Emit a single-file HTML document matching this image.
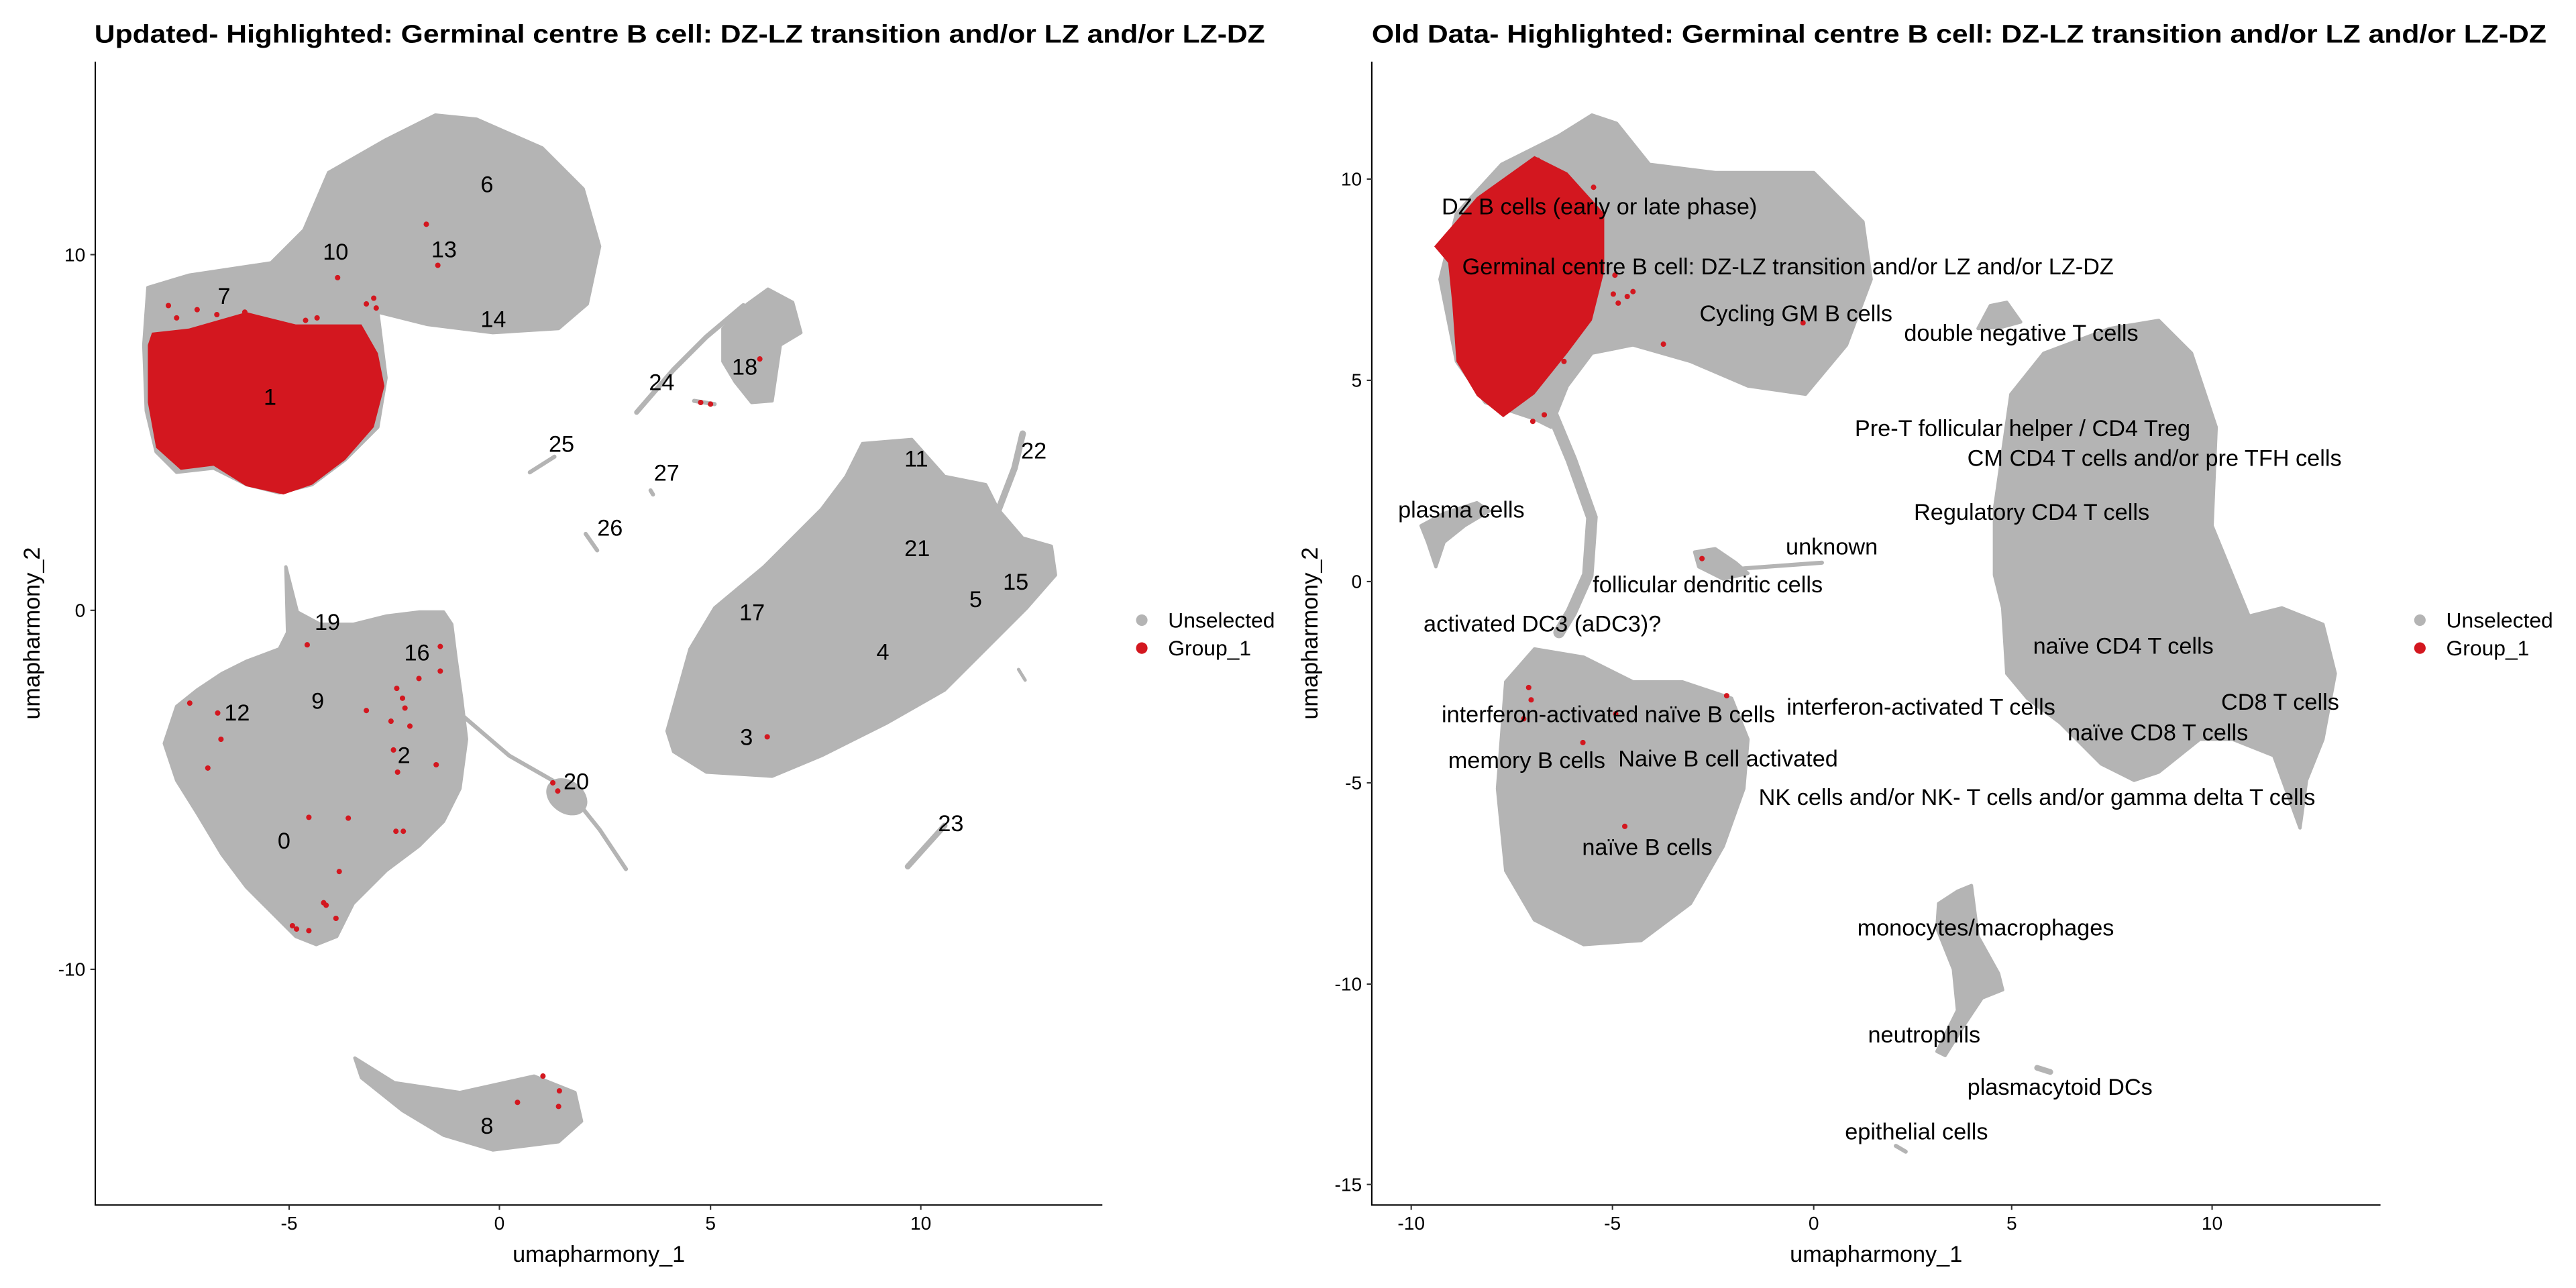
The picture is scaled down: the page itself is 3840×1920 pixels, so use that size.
<!DOCTYPE html>
<html><head><meta charset="utf-8"><style>
html,body{margin:0;padding:0;background:#fff;width:3840px;height:1920px;overflow:hidden}
svg{position:absolute;top:0}
text{font-family:"Liberation Sans",Arial,sans-serif;fill:#000}
.t{font-weight:bold;font-size:31px}
.tk{font-size:23px;fill:#333}
.ax{font-size:28px}
.lb{font-size:28px}
.lg{font-size:26px}
.g{fill:#B4B4B4;stroke:#B4B4B4;stroke-width:4;stroke-linejoin:round}
.r{fill:#D3171F}
.ln{stroke:#B4B4B4;fill:none;stroke-linecap:round}
</style></head><body>
<svg width="1920" height="1920" viewBox="0 0 1568 1568" style="left:0">
<text class="t" x="115" y="52" textLength="1425" lengthAdjust="spacingAndGlyphs">Updated- Highlighted: Germinal centre B cell: DZ-LZ transition and/or LZ and/or LZ-DZ</text>
<path class="g" d="M180,350 L230,335 L330,320 L370,280 L400,210 L470,170 L530,140 L580,145 L660,180 L710,230 L730,300 L715,370 L680,400 L600,405 L520,395 L460,380 L470,460 L460,520 L420,560 L380,590 L340,600 L300,590 L260,570 L215,575 L190,550 L178,500 L175,420 Z"/>
<path class="r" d="M180,420 L185,405 L230,400 L300,380 L360,395 L440,395 L460,430 L468,470 L455,520 L420,560 L380,590 L345,602 L300,592 L260,567 L220,572 L190,545 L180,490 Z"/>
<path class="g" d="M200,905 L215,860 L240,840 L270,820 L300,805 L340,790 L350,770 L348,690 L362,745 L390,760 L430,760 L470,750 L510,745 L540,745 L550,760 L555,800 L562,850 L568,900 L560,960 L540,1000 L510,1030 L470,1060 L430,1100 L410,1140 L385,1150 L360,1140 L330,1110 L300,1080 L270,1040 L240,990 L215,950 Z"/>
<path class="ln" d="M550,860 L620,920 L690,960 L730,1010 L762,1058" stroke-width="5"/>
<ellipse class="g" cx="690" cy="970" rx="25" ry="18" transform="rotate(35 690 970)"/>
<path class="g" d="M432,1288 L480,1318 L560,1330 L650,1310 L700,1330 L708,1365 L680,1390 L600,1400 L540,1382 L490,1352 L440,1312 Z"/>
<path class="g" d="M812,890 L840,790 L870,740 L930,690 L1000,620 L1030,580 L1050,540 L1110,535 L1150,580 L1200,590 L1215,620 L1245,655 L1280,665 L1285,700 L1250,740 L1200,790 L1150,840 L1080,880 L1000,920 L940,945 L860,940 L820,915 Z"/>
<path class="ln" d="M1212,630 L1235,570 L1245,528" stroke-width="8"/>
<path class="ln" d="M1240,815 L1248,828" stroke-width="4"/>
<path class="ln" d="M775,502 L820,450 L860,410 L905,372" stroke-width="6"/>
<path class="g" d="M880,400 L910,370 L935,352 L965,368 L975,405 L950,420 L940,488 L915,490 L895,465 L880,440 Z"/>
<path class="ln" d="M845,488 L870,492" stroke-width="5"/>
<path class="ln" d="M645,575 L675,556" stroke-width="5"/>
<path class="ln" d="M713,650 L727,670" stroke-width="5"/>
<path class="ln" d="M792,597 L795,602" stroke-width="5"/>
<path class="ln" d="M1105,1055 L1150,1005" stroke-width="7"/>
<g class="r">
<circle cx="205" cy="372" r="3.3"/><circle cx="240" cy="377" r="3.3"/><circle cx="264" cy="383" r="3.3"/><circle cx="298" cy="380" r="3.3"/><circle cx="215" cy="387" r="3.3"/><circle cx="372" cy="390" r="3.3"/><circle cx="386" cy="387" r="3.3"/><circle cx="446" cy="370" r="3.3"/><circle cx="455" cy="363" r="3.3"/><circle cx="458" cy="375" r="3.3"/><circle cx="411" cy="338" r="3.3"/><circle cx="519" cy="273" r="3.3"/><circle cx="533" cy="323" r="3.3"/><circle cx="853" cy="490" r="3.3"/><circle cx="865" cy="492" r="3.3"/><circle cx="925" cy="437" r="3.3"/><circle cx="374" cy="785" r="3.3"/><circle cx="536" cy="787" r="3.3"/><circle cx="536" cy="817" r="3.3"/><circle cx="510" cy="826" r="3.3"/><circle cx="483" cy="838" r="3.3"/><circle cx="490" cy="850" r="3.3"/><circle cx="493" cy="862" r="3.3"/><circle cx="499" cy="884" r="3.3"/><circle cx="476" cy="878" r="3.3"/><circle cx="446" cy="865" r="3.3"/><circle cx="479" cy="913" r="3.3"/><circle cx="484" cy="940" r="3.3"/><circle cx="531" cy="931" r="3.3"/><circle cx="231" cy="856" r="3.3"/><circle cx="265" cy="868" r="3.3"/><circle cx="269" cy="900" r="3.3"/><circle cx="253" cy="935" r="3.3"/><circle cx="376" cy="995" r="3.3"/><circle cx="424" cy="996" r="3.3"/><circle cx="482" cy="1012" r="3.3"/><circle cx="491" cy="1012" r="3.3"/><circle cx="413" cy="1061" r="3.3"/><circle cx="394" cy="1099" r="3.3"/><circle cx="397" cy="1102" r="3.3"/><circle cx="409" cy="1118" r="3.3"/><circle cx="356" cy="1127" r="3.3"/><circle cx="361" cy="1131" r="3.3"/><circle cx="376" cy="1133" r="3.3"/><circle cx="673" cy="953" r="3.3"/><circle cx="679" cy="963" r="3.3"/><circle cx="934" cy="897" r="3.3"/><circle cx="661" cy="1310" r="3.3"/><circle cx="681" cy="1328" r="3.3"/><circle cx="680" cy="1347" r="3.3"/><circle cx="630" cy="1342" r="3.3"/>
</g>
<g class="lb">
<text x="585" y="234">6</text><text x="393" y="316">10</text><text x="525" y="313">13</text><text x="585" y="398">14</text><text x="265" y="370">7</text><text x="321" y="493">1</text>
<text x="891" y="456">18</text><text x="790" y="475">24</text><text x="668" y="550">25</text><text x="796" y="585">27</text><text x="727" y="652">26</text>
<text x="1101" y="568">11</text><text x="1243" y="558">22</text><text x="1101" y="677">21</text><text x="1221" y="718">15</text><text x="1180" y="739">5</text><text x="900" y="755">17</text><text x="1067" y="803">4</text><text x="901" y="907">3</text>
<text x="383" y="767">19</text><text x="492" y="804">16</text><text x="379" y="863">9</text><text x="273" y="877">12</text><text x="484" y="929">2</text><text x="686" y="961">20</text><text x="338" y="1033">0</text><text x="1142" y="1012">23</text><text x="585" y="1380">8</text>
</g>
<path d="M116,75 L116,1467 L1342,1467" stroke="#000" stroke-width="1.7" fill="none"/>
<g stroke="#333" stroke-width="1.7"><path d="M110,310H116M110,743H116M110,1180H116M352,1467V1473M608,1467V1473M865,1467V1473M1121,1467V1473"/></g>
<g class="tk" text-anchor="end"><text x="104" y="318">10</text><text x="104" y="751">0</text><text x="104" y="1188">-10</text></g>
<g class="tk" text-anchor="middle"><text x="352" y="1497">-5</text><text x="608" y="1497">0</text><text x="865" y="1497">5</text><text x="1121" y="1497">10</text></g>
<text class="ax" x="729" y="1536" text-anchor="middle">umapharmony_1</text>
<text class="ax" transform="translate(48,771) rotate(-90)" text-anchor="middle">umapharmony_2</text>
<circle cx="1390" cy="755" r="7" fill="#B4B4B4"/><circle cx="1390" cy="789" r="7" fill="#D3171F"/>
<text class="lg" x="1422" y="764">Unselected</text><text class="lg" x="1422" y="798">Group_1</text>
</svg>

<svg width="1920" height="1920" viewBox="0 0 1568 1568" style="left:1920px">
<text class="t" x="102" y="52" textLength="1430" lengthAdjust="spacingAndGlyphs">Old Data- Highlighted: Germinal centre B cell: DZ-LZ transition and/or LZ and/or LZ-DZ</text>
<path class="g" d="M205,260 L260,200 L330,165 L370,140 L400,150 L440,200 L520,210 L640,210 L700,270 L710,340 L680,420 L630,480 L560,470 L490,440 L420,420 L370,430 L340,470 L320,520 L300,510 L240,490 L205,440 L185,340 Z"/>
<path class="r" d="M178,300 L230,240 L300,190 L340,210 L385,260 L385,330 L370,390 L340,430 L300,480 L262,508 L230,482 L205,440 L200,370 L195,320 Z"/>
<path class="g" d="M162,640 L190,625 L230,612 L245,622 L215,640 L190,660 L180,690 L170,660 Z"/>
<path class="ln" d="M320,500 L345,560 L370,630 L365,700 L345,745 L330,770" stroke-width="14"/>
<path class="g" d="M265,830 L300,790 L360,800 L420,830 L480,830 L540,850 L560,900 L555,960 L530,1030 L490,1100 L430,1145 L360,1150 L300,1120 L265,1060 L255,960 Z"/>
<path class="g" d="M495,672 L520,668 L545,685 L560,698 L530,705 L500,690 Z"/>
<path class="ln" d="M555,692 L650,685" stroke-width="5"/>
<path class="g" d="M860,620 L880,480 L920,430 L1000,400 L1060,390 L1100,430 L1130,520 L1125,640 L1170,750 L1210,740 L1260,760 L1275,820 L1260,900 L1240,950 L1232,1008 L1200,920 L1150,900 L1110,900 L1060,940 L1030,950 L990,930 L940,880 L900,850 L875,820 L870,740 L860,700 Z"/>
<path class="g" d="M840,400 L855,372 L875,368 L892,392 L870,398 Z"/>
<path class="g" d="M792,1100 L815,1085 L832,1078 L840,1140 L865,1185 L870,1205 L845,1215 L825,1245 L800,1285 L790,1280 L815,1230 L810,1180 L790,1130 Z"/>
<path class="ln" d="M912,1300 L928,1305" stroke-width="7"/>
<path class="ln" d="M740,1395 L752,1402" stroke-width="5"/>
<g class="r">
<circle cx="304" cy="195" r="3.3"/><circle cx="372" cy="228" r="3.3"/><circle cx="398" cy="335" r="3.3"/><circle cx="396" cy="358" r="3.3"/><circle cx="413" cy="361" r="3.3"/><circle cx="420" cy="355" r="3.3"/><circle cx="402" cy="369" r="3.3"/><circle cx="457" cy="419" r="3.3"/><circle cx="336" cy="440" r="3.3"/><circle cx="312" cy="505" r="3.3"/><circle cx="298" cy="513" r="3.3"/><circle cx="627" cy="393" r="3.3"/><circle cx="504" cy="680" r="3.3"/><circle cx="293" cy="837" r="3.3"/><circle cx="296" cy="852" r="3.3"/><circle cx="287" cy="875" r="3.3"/><circle cx="399" cy="869" r="3.3"/><circle cx="534" cy="847" r="3.3"/><circle cx="359" cy="904" r="3.3"/><circle cx="410" cy="1006" r="3.3"/>
</g>
<g class="lb">
<text x="187" y="261">DZ B cells (early or late phase)</text>
<text x="212" y="334">Germinal centre B cell: DZ-LZ transition and/or LZ and/or LZ-DZ</text>
<text x="501" y="391">Cycling GM B cells</text>
<text x="750" y="415">double negative T cells</text>
<text x="690" y="531">Pre-T follicular helper / CD4 Treg</text>
<text x="827" y="567">CM CD4 T cells  and/or pre TFH cells</text>
<text x="762" y="633">Regulatory CD4 T cells</text>
<text x="134" y="630">plasma cells</text>
<text x="606" y="675">unknown</text>
<text x="371" y="721">follicular dendritic cells</text>
<text x="165" y="769">activated DC3 (aDC3)?</text>
<text x="907" y="796">naïve CD4 T cells</text>
<text x="1136" y="864">CD8 T cells</text>
<text x="607" y="870">interferon-activated T cells</text>
<text x="187" y="879">interferon-activated naïve B cells</text>
<text x="949" y="901">naïve CD8 T cells</text>
<text x="195" y="935">memory B cells</text>
<text x="402" y="933">Naive B cell activated</text>
<text x="573" y="980">NK cells and/or NK- T cells and/or gamma delta T cells</text>
<text x="358" y="1041">naïve B cells</text>
<text x="693" y="1139">monocytes/macrophages</text>
<text x="706" y="1269">neutrophils</text>
<text x="827" y="1333">plasmacytoid DCs</text>
<text x="678" y="1387">epithelial cells</text>
</g>
<path d="M102,75 L102,1467 L1330,1467" stroke="#000" stroke-width="1.7" fill="none"/>
<g stroke="#333" stroke-width="1.7"><path d="M96,218H102M96,463H102M96,708H102M96,953H102M96,1198H102M96,1442H102M150,1467V1473M395,1467V1473M640,1467V1473M881,1467V1473M1125,1467V1473"/></g>
<g class="tk" text-anchor="end"><text x="90" y="226">10</text><text x="90" y="471">5</text><text x="90" y="716">0</text><text x="90" y="961">-5</text><text x="90" y="1206">-10</text><text x="90" y="1450">-15</text></g>
<g class="tk" text-anchor="middle"><text x="150" y="1497">-10</text><text x="395" y="1497">-5</text><text x="640" y="1497">0</text><text x="881" y="1497">5</text><text x="1125" y="1497">10</text></g>
<text class="ax" x="716" y="1536" text-anchor="middle">umapharmony_1</text>
<text class="ax" transform="translate(36,771) rotate(-90)" text-anchor="middle">umapharmony_2</text>
<circle cx="1378" cy="755" r="7" fill="#B4B4B4"/><circle cx="1378" cy="789" r="7" fill="#D3171F"/>
<text class="lg" x="1410" y="764">Unselected</text><text class="lg" x="1410" y="798">Group_1</text>
</svg>
</body></html>
